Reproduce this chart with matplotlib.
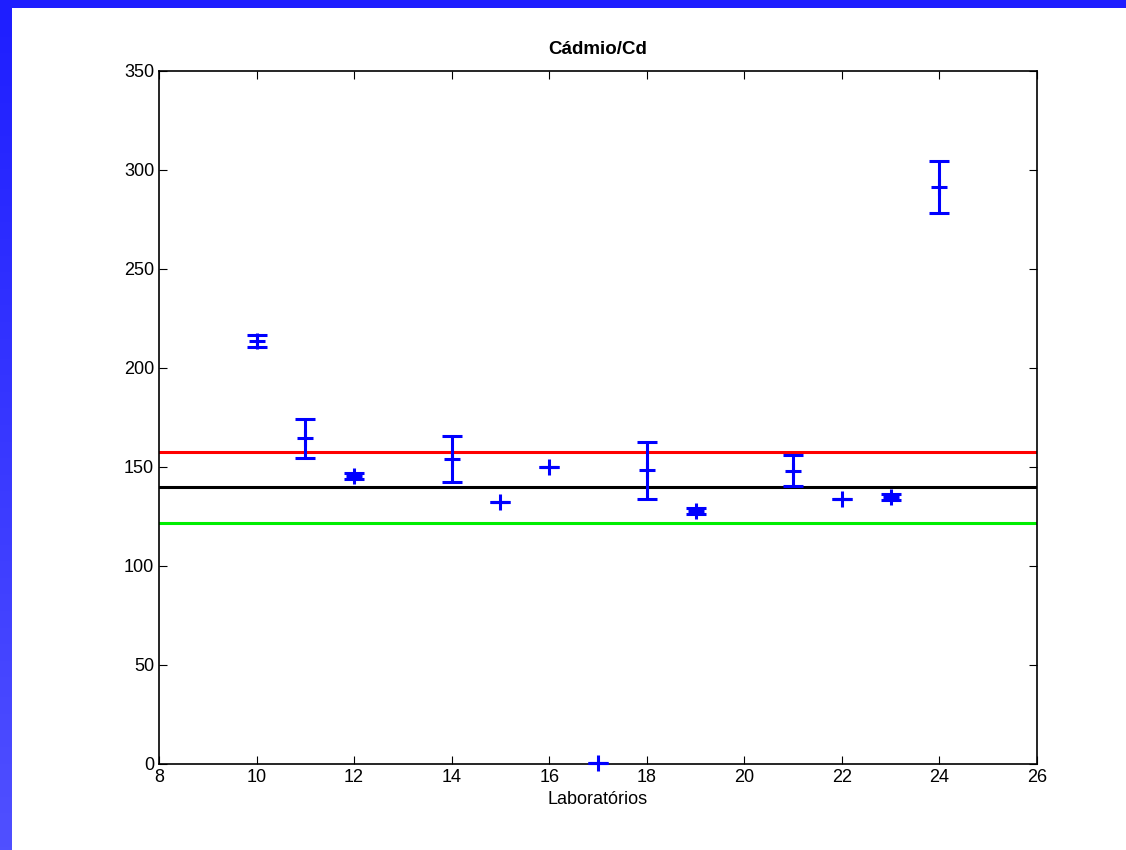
import matplotlib.pyplot as plt
import numpy as np

plt.rcParams['font.family'] = ['Liberation Sans', 'DejaVu Sans']

labs = [10, 11, 12, 14, 15, 16, 17, 18, 19, 21, 22, 23, 24]
means = [213.5, 164.5, 145.3, 154.0, 132.3, 150.2, 0.5, 148.3, 127.9, 148.0, 133.8, 135.0, 291.5]
errs = [3.0, 9.8, 1.5, 11.7, 0.0, 0.0, 0.0, 14.5, 1.5, 7.8, 0.0, 1.5, 13.0]

upper = 157.6
assigned = 139.7
lower = 121.9

fig = plt.figure(figsize=(11.26, 8.5), dpi=100)

# blue slide frame (top bar + left gradient bar)
bar = fig.add_axes([0, 0, 11 / 1126, 1])
grad = np.linspace(0, 1, 256).reshape(-1, 1)
col = np.zeros((256, 1, 3))
col[:, 0, 0] = (30 + 50 * grad[:, 0]) / 255
col[:, 0, 1] = (30 + 50 * grad[:, 0]) / 255
col[:, 0, 2] = 1.0
bar.imshow(col, aspect='auto', extent=[0, 1, 0, 1], origin='upper')
bar.axis('off')
top = fig.add_axes([0, 1 - 8 / 850, 1, 8 / 850])
top.set_facecolor((30 / 255, 30 / 255, 1.0))
top.set_xticks([])
top.set_yticks([])
for s in top.spines.values():
    s.set_visible(False)

ax = fig.add_axes([0.1412, 0.1012, 0.921 - 0.1412, 0.9165 - 0.1012])
ax.axhline(upper, color='#ff0000', lw=2.2)
ax.axhline(assigned, color='black', lw=2.2)
ax.axhline(lower, color='#00ee00', lw=2.2)
ax.errorbar(labs, means, yerr=errs, fmt='+', color='#0000ff', ms=12, mew=2.2,
            elinewidth=2.2, capsize=7, capthick=2.2, zorder=3, clip_on=False)

ax.set_xlim(8, 26)
ax.set_ylim(0, 350)
ax.set_xticks(np.arange(8, 27, 2))
ax.set_yticks(np.arange(0, 351, 50))
ax.tick_params(direction='in', top=True, right=True, labelsize=13, length=6, width=0.8)
for s in ax.spines.values():
    s.set_linewidth(1.2)
ax.set_title('Cádmio/Cd', fontsize=13.5, fontweight='bold', pad=12)
ax.set_xlabel('Laboratórios', fontsize=13, labelpad=4)

fig.savefig('out.png', dpi=100)
